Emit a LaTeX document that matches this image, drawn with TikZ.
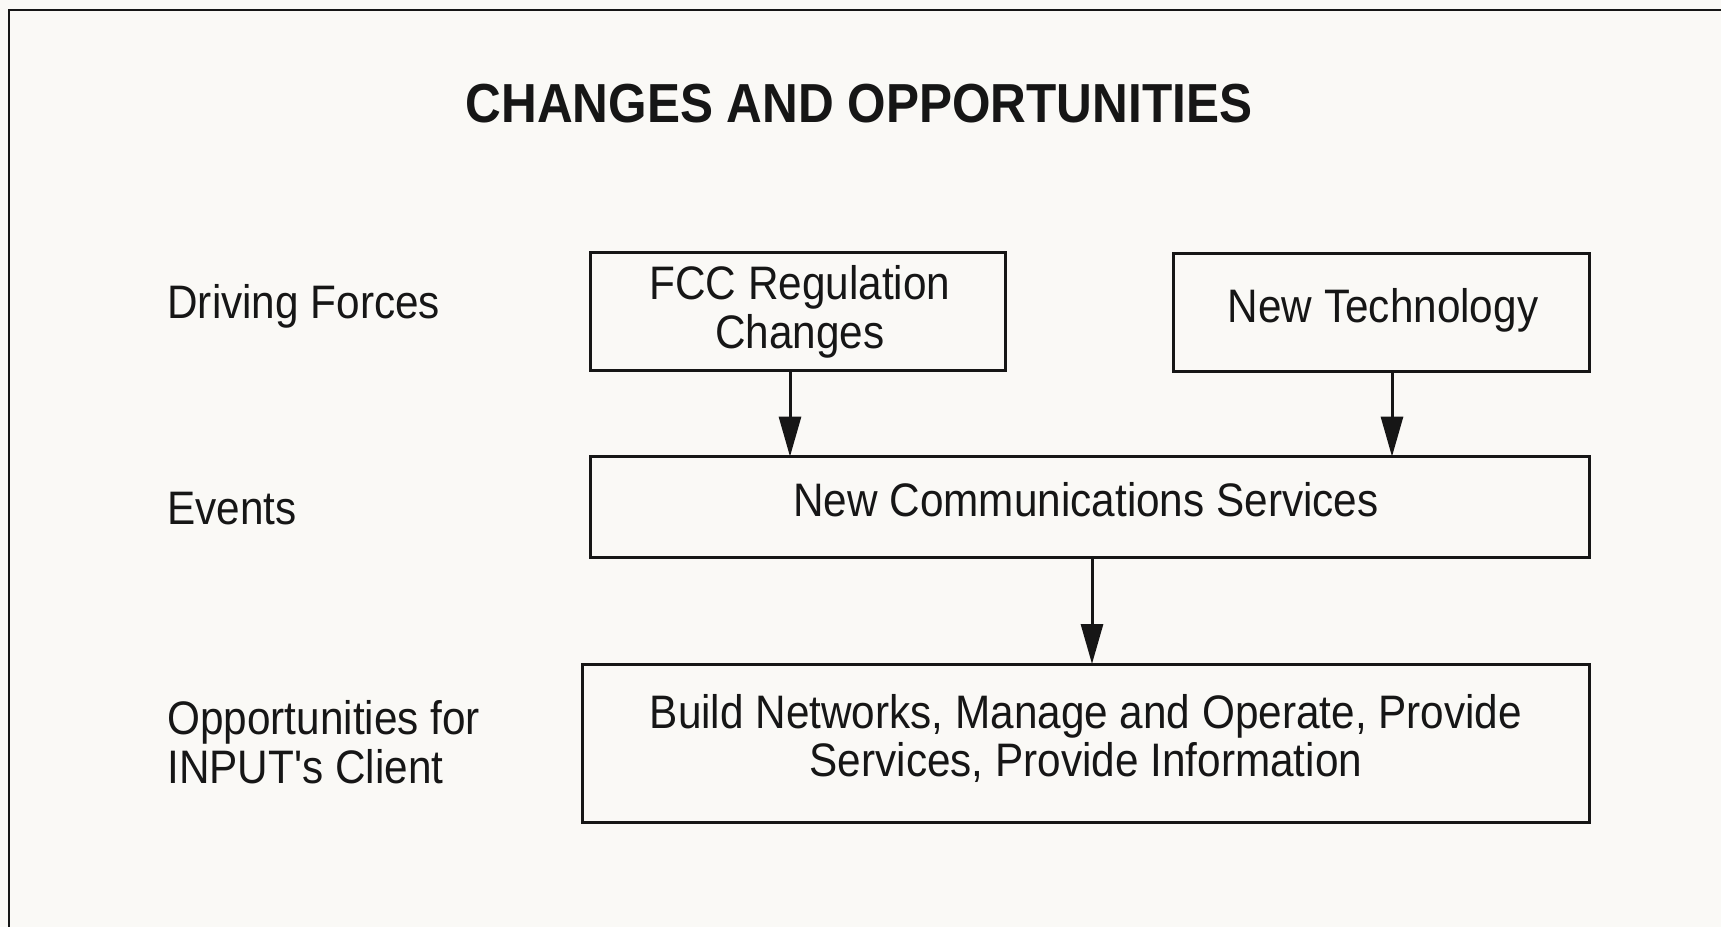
\documentclass[tikz,border=0pt]{standalone}
\usepackage{fontspec}
\setmainfont{Liberation Sans}[FakeStretch=0.9,Ligatures=TeXOff]
\usetikzlibrary{arrows.meta}
\definecolor{paper}{RGB}{250,249,246}
\definecolor{ink}{RGB}{22,22,22}
\begin{document}
\begin{tikzpicture}[x=0.5pt,y=-0.5pt,
  box/.style 2 args={draw=ink,line width=1.5pt,inner sep=0pt,outer sep=0pt,minimum width=#1,minimum height=#2},
  txt/.style={inner sep=0pt,text=ink,font=\fontsize{23.5}{25}\selectfont,anchor=base},
  lbl/.style={txt,anchor=base west},
  ttl/.style={inner sep=0pt,text=ink,font=\bfseries\fontsize{27.5}{29}\selectfont,anchor=base},
  arr/.style={draw=ink,line width=1.5pt,-{Triangle[width=11pt,length=20pt]}},
  frame/.style={draw=ink,line width=1.2pt}]
\fill[paper] (0,0) rectangle (1721,927);
\useasboundingbox (0,0) rectangle (1721,927);
% frame (left and top edges visible)
\coordinate (fbl) at (9,927);
\coordinate (ftl) at (9,10);
\coordinate (ftr) at (1721,10);
\draw[frame] (fbl) -- (ftl) -- (ftr);
% title
\node[ttl] (title) at (859,122) {CHANGES AND OPPORTUNITIES};
% left labels
\node[lbl] (lab1) at (167,318) {Driving Forces};
\node[lbl] (lab2) at (167,524) {Events};
\node[lbl] (lab3a) at (167,734) {Opportunities for};
\node[lbl] (lab3b) at (167,783) {INPUT's Client};
% boxes
\node[box={207.5pt}{59pt}] (b1) at (798,311.5) {};
\node[box={208pt}{58.75pt}] (b2) at (1381.3,312.3) {};
\node[box={499.4pt}{50.5pt}] (b3) at (1090,507.1) {};
\node[box={503.25pt}{79pt}] (b4) at (1086,743) {};
% box texts
\node[txt] (t1a) at (800,299) {FCC Regulation};
\node[txt] (t1b) at (800,348) {Changes};
\node[txt] (t2) at (1383,322) {New Technology};
\node[txt] (t3) at (1086,516) {New Communications Services};
\node[txt] (t4a) at (1086,728) {Build Networks, Manage and Operate, Provide};
\node[txt] (t4b) at (1086,776) {Services, Provide Information};
% connectors
\coordinate (x1) at (790,0);
\coordinate (x2) at (1392,0);
\coordinate (x3) at (1092,0);
\draw[arr] (b1.south -| x1) -- (b3.north -| x1);
\draw[arr] (b2.south -| x2) -- (b3.north -| x2);
\draw[arr] (b3.south -| x3) -- (b4.north -| x3);
\end{tikzpicture}
\end{document}
